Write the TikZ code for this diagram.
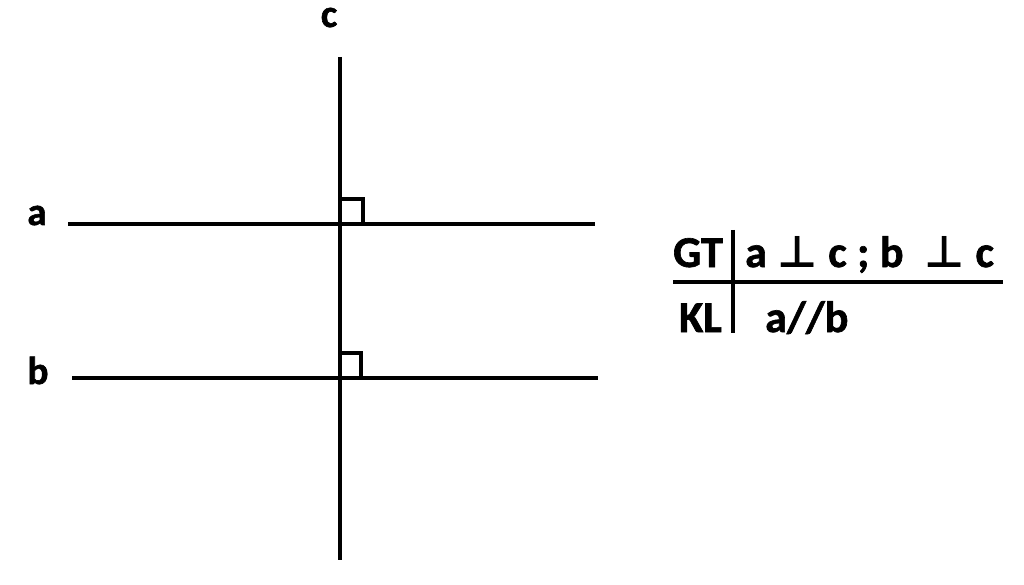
\documentclass[tikz,border=0pt]{standalone}
\usepackage{fontspec}
\setmainfont{Carlito}[BoldFont={Carlito Bold},BoldFeatures={FakeBold=1.5}]
\newfontfamily\symfont{DejaVu Sans}[BoldFont={DejaVu Sans Bold}]
\begin{document}
\begin{tikzpicture}[x=1pt,y=-1pt,
  geo/.style={line width=4pt,line cap=butt},
  rightmark/.style={line width=3.5pt},
  lbl/.style={font=\fontsize{39}{40}\selectfont\bfseries,inner sep=0pt},
  tlbl/.style={font=\fontsize{44}{46}\selectfont\bfseries,inner sep=0pt},
  tbl/.style={line width=3.5pt}]
\useasboundingbox (0,0) rectangle (1024,585);
% lines
\coordinate (c1) at (340,57);
\coordinate (c2) at (340,560);
\coordinate (a1) at (68,224);
\coordinate (a2) at (595,224);
\coordinate (b1) at (72,378);
\coordinate (b2) at (598,378);
\draw[geo] (c1) -- (c2);
\draw[geo] (a1) -- (a2);
\draw[geo] (b1) -- (b2);
% right angle marks
\draw[rightmark] (340,199) -- (363,199) -- (363,224);
\draw[rightmark] (340,353) -- (361,353) -- (361,378);
% labels
\node[lbl,anchor=base,text height=0.5em] (lc) at (329,27) {c};
\node[lbl,anchor=base] (la) at (37,225) {a};
\node[lbl,anchor=base] (lb) at (38,384) {b};
% table
\coordinate (v1) at (733,230);
\coordinate (v2) at (733,333);
\coordinate (h1) at (673,282);
\coordinate (h2) at (1003,282);
\draw[tbl] (v1) -- (v2);
\draw[tbl] (h1) -- (h2);
\node[tlbl,anchor=base east] (gt) at (723,267) {GT};
\node[tlbl,anchor=base east] (kl) at (722,332) {KL};
\node[tlbl,anchor=base west] (hyp) at (745,267) {\spaceskip=0.24em a {\symfont\bfseries ⊥} c ; b \ {\symfont\bfseries ⊥} c};
\node[tlbl,anchor=base west] (con) at (765,332) {a//b};
\end{tikzpicture}
\end{document}
